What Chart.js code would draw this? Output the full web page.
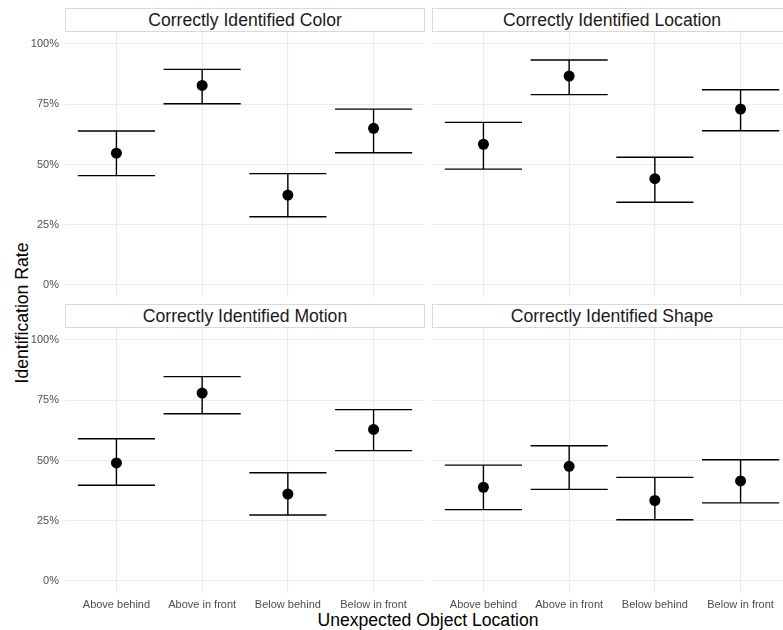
<!DOCTYPE html>
<html>
<head>
<meta charset="utf-8">
<script src="https://cdn.jsdelivr.net/npm/chart.js@4.4.1/dist/chart.umd.min.js"></script>
<style>
  html, body { margin: 0; padding: 0; background: #fff; }
  body { width: 783px; height: 630px; position: relative; overflow: hidden; font-family: "Liberation Sans", Arial, sans-serif; }
  .panel { position: absolute; }
  .strip { position: absolute; box-sizing: border-box; border: 1px solid #d9d9d9; background: #fff;
           color: #1a1a1a; font-size: 17.6px; text-align: center; line-height: 22px; }
  .ytitle { position: absolute; left: 22px; top: 313px; transform: translate(-50%, -50%) rotate(-90deg);
            font-size: 17.6px; color: #000; white-space: nowrap; }
  .xtitle { position: absolute; left: 428px; top: 620px; transform: translate(-50%, -50%);
            font-size: 17.6px; color: #000; white-space: nowrap; }
</style>
</head>
<body>
<div class="ytitle">Identification Rate</div>
<div class="xtitle">Unexpected Object Location</div>

<script>
const categories = ["Above behind", "Above in front", "Below behind", "Below in front"];
const panelTitles = ["Correctly Identified Color", "Correctly Identified Location", "Correctly Identified Motion", "Correctly Identified Shape"];
const yTicks = [0, 0.25, 0.5, 0.75, 1];
const yTickLabels = ["0%", "25%", "50%", "75%", "100%"];

const colorRate = [0.547, 0.828, 0.373, 0.650];
const colorLow = [0.454, 0.752, 0.283, 0.549];
const colorHigh = [0.639, 0.895, 0.462, 0.730];

const locationRate = [0.584, 0.867, 0.441, 0.730];
const locationLow = [0.481, 0.790, 0.343, 0.640];
const locationHigh = [0.675, 0.934, 0.530, 0.810];

const motionRate = [0.490, 0.780, 0.361, 0.629];
const motionLow = [0.397, 0.694, 0.274, 0.541];
const motionHigh = [0.590, 0.848, 0.449, 0.711];

const shapeRate = [0.389, 0.476, 0.334, 0.415];
const shapeLow = [0.296, 0.380, 0.254, 0.324];
const shapeHigh = [0.481, 0.561, 0.430, 0.503];

const panels = [
  { title: panelTitles[0], rate: colorRate, low: colorLow, high: colorHigh, left: 0, top: 32, leftAxis: true, bottomAxis: false },
  { title: panelTitles[1], rate: locationRate, low: locationLow, high: locationHigh, left: 432, top: 32, leftAxis: false, bottomAxis: false },
  { title: panelTitles[2], rate: motionRate, low: motionLow, high: motionHigh, left: 0, top: 328, leftAxis: true, bottomAxis: true },
  { title: panelTitles[3], rate: shapeRate, low: shapeLow, high: shapeHigh, left: 432, top: 328, leftAxis: false, bottomAxis: true }
];

const AXIS_W = 65;
const PLOT_W = 360;
const PLOT_H = 265;
const XLAB_H = 24;

// draws whiskers + caps behind the points
const errorBars = {
  id: "errorBars",
  beforeDatasetsDraw(chart, args, opts) {
    const { ctx, scales: { x, y } } = chart;
    ctx.save();
    ctx.strokeStyle = "#000";
    ctx.lineWidth = 1.4;
    opts.low.forEach((lo, i) => {
      const hi = opts.high[i];
      const cx = x.getPixelForValue(i);
      const x0 = x.getPixelForValue(i - 0.45);
      const x1 = x.getPixelForValue(i + 0.45);
      const yl = y.getPixelForValue(lo);
      const yh = y.getPixelForValue(hi);
      ctx.beginPath();
      ctx.moveTo(cx, yl); ctx.lineTo(cx, yh);
      ctx.moveTo(x0, yl); ctx.lineTo(x1, yl);
      ctx.moveTo(x0, yh); ctx.lineTo(x1, yh);
      ctx.stroke();
    });
    ctx.restore();
  }
};

panels.forEach((p) => {
  const axisW = p.leftAxis ? AXIS_W : 0;
  const wrap = document.createElement("div");
  wrap.className = "panel";
  wrap.style.left = p.left + "px";
  wrap.style.top = p.top + "px";
  wrap.style.width = (axisW + PLOT_W) + "px";
  wrap.style.height = (PLOT_H + (p.bottomAxis ? XLAB_H : 0)) + "px";
  const canvas = document.createElement("canvas");
  wrap.appendChild(canvas);
  document.body.appendChild(wrap);

  const strip = document.createElement("div");
  strip.className = "strip";
  strip.style.left = (p.left + axisW) + "px";
  strip.style.top = (p.top - 24) + "px";
  strip.style.width = PLOT_W + "px";
  strip.style.height = "24px";
  strip.textContent = p.title;
  document.body.appendChild(strip);

  new Chart(canvas, {
    type: "scatter",
    data: {
      datasets: [{
        data: p.rate.map((v, i) => ({ x: i, y: v })),
        backgroundColor: "#000",
        borderWidth: 0,
        pointRadius: 5.5,
        pointHoverRadius: 5.5,
        clip: false
      }]
    },
    options: {
      responsive: true,
      maintainAspectRatio: false,
      animation: false,
      devicePixelRatio: 1,
      layout: { padding: 0, autoPadding: false },
      plugins: {
        legend: { display: false },
        tooltip: { enabled: false },
        errorBars: { low: p.low, high: p.high }
      },
      scales: {
        x: {
          type: "linear",
          min: -0.6,
          max: 3.6,
          afterBuildTicks: (s) => { s.ticks = categories.map((c, i) => ({ value: i })); },
          afterFit: (s) => { s.height = p.bottomAxis ? XLAB_H : 0; s.paddingLeft = 0; s.paddingRight = 0; },
          border: { display: false },
          grid: { color: "#ebebeb", lineWidth: 1.1, drawTicks: false },
          ticks: {
            display: p.bottomAxis,
            padding: 5,
            color: "#4d4d4d",
            font: { family: "'Liberation Sans', Arial, sans-serif", size: 11 },
            maxRotation: 0,
            autoSkip: false,
            callback: (v) => categories[v]
          }
        },
        y: {
          type: "linear",
          min: -0.05,
          max: 1.05,
          afterBuildTicks: (s) => { s.ticks = yTicks.map((v) => ({ value: v })); },
          afterFit: (s) => { s.width = axisW; s.paddingTop = 0; s.paddingBottom = 0; },
          border: { display: false },
          grid: { color: "#ebebeb", lineWidth: 1.1, drawTicks: false },
          ticks: {
            display: p.leftAxis,
            padding: 6,
            color: "#4d4d4d",
            font: { family: "'Liberation Sans', Arial, sans-serif", size: 11 },
            callback: (v) => yTickLabels[yTicks.indexOf(v)]
          }
        }
      }
    },
    plugins: [errorBars]
  });
});
</script>
</body>
</html>
